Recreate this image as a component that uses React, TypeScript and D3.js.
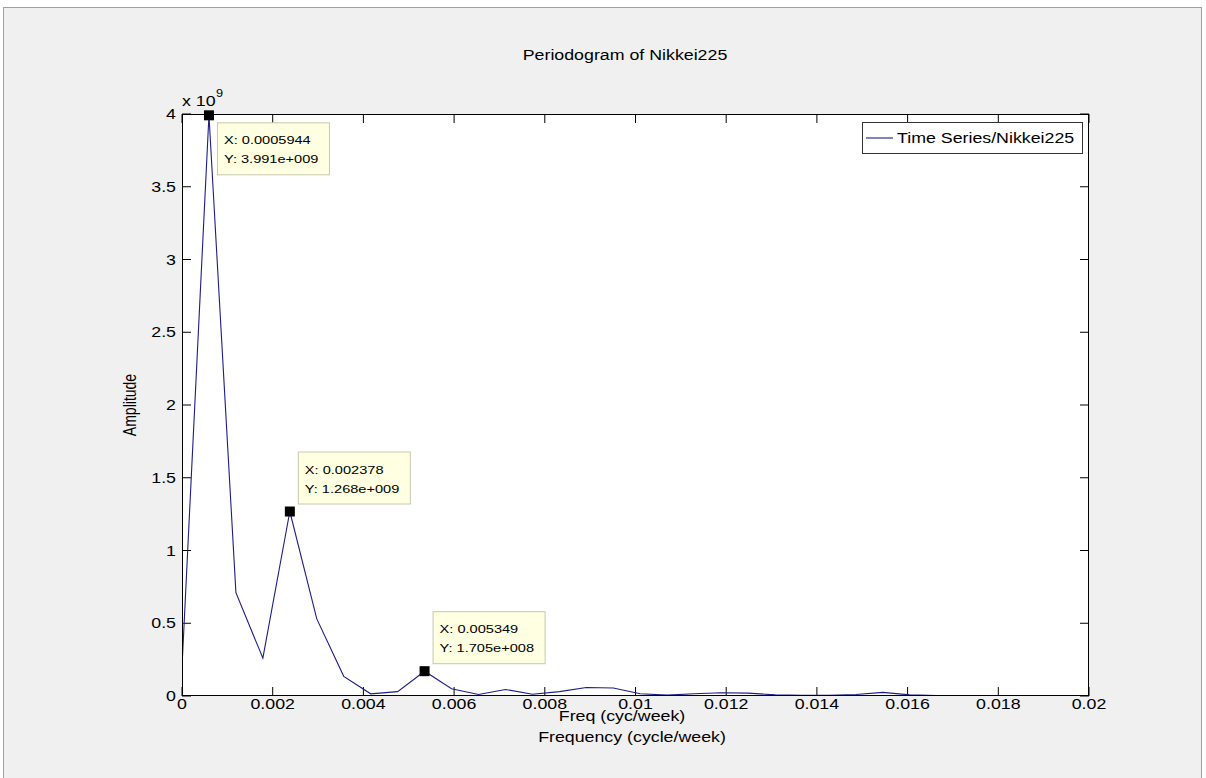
import React from "react";
import * as d3 from "d3";

const DF = 0.0005944;
const amplitudes = [
  0.2, 3.991, 0.71, 0.26, 1.268, 0.53, 0.135, 0.015, 0.03, 0.1705, 0.05, 0.01,
  0.045, 0.012, 0.03, 0.058, 0.055, 0.015, 0.006, 0.015, 0.022, 0.02, 0.008,
  0.004, 0.005, 0.01, 0.025, 0.008, 0.003, 0.003, 0.002, 0.003, 0.002, 0.002, 0.002,
]; // x 1e9
const frequencies = amplitudes.map((_, i) => i * DF);
const xTicks = [0, 0.002, 0.004, 0.006, 0.008, 0.01, 0.012, 0.014, 0.016, 0.018, 0.02];
const xTickLabels = ["0", "0.002", "0.004", "0.006", "0.008", "0.01", "0.012", "0.014", "0.016", "0.018", "0.02"];
const yTicks = [0, 0.5, 1, 1.5, 2, 2.5, 3, 3.5, 4];
const yTickLabels = ["0", "0.5", "1", "1.5", "2", "2.5", "3", "3.5", "4"];
const tipX = [0.0005944, 0.002378, 0.005349];
const tipY = [3.991, 1.268, 0.1705];
const tipXLabels = ["X: 0.0005944", "X: 0.002378", "X: 0.005349"];
const tipYLabels = ["Y: 3.991e+009", "Y: 1.268e+009", "Y: 1.705e+008"];
const tipBelow = [true, false, false];

const FONT = "'Liberation Sans', Arial, Helvetica, sans-serif";
const SX = 1.27;

function T({ x, y, anchor = "start", size = 14, children, rotate = 0, fill = "#000" }: any) {
  const tr = `translate(${x},${y}) scale(${SX},1)` + (rotate ? ` rotate(${rotate})` : "");
  return (
    <text transform={tr} textAnchor={anchor} fontFamily={FONT} fontSize={size} fill={fill}>
      {children}
    </text>
  );
}

export default function App() {
  const W = 1206, H = 778;
  const L = 182, R = 1089, TOP = 114, B = 696;
  const x = d3.scaleLinear().domain([0, 0.02]).range([L, R]);
  const y = d3.scaleLinear().domain([0, 4]).range([B, TOP]);
  const line = d3
    .line<number>()
    .x((_, i) => x(frequencies[i]))
    .y((d) => y(d));
  const tl = 9;
  return (
    <svg width={W} height={H} style={{ position: "absolute", left: 0, top: 0 }}>
      <rect x={0} y={0} width={W} height={H} fill="#fff" />
      <rect x={3.5} y={7.5} width={1198} height={H} fill="#f0f0f0" stroke="#a0a0a0" />
      <defs>
        <clipPath id="clip">
          <rect x={L} y={TOP - 10} width={R - L} height={B - TOP + 10} />
        </clipPath>
      </defs>
      <rect x={L} y={TOP} width={R - L} height={B - TOP} fill="#fff" />
      <T x={625} y={60} anchor="middle">Periodogram of Nikkei225</T>
      {/* ticks */}
      {xTicks.map((t, i) => (
        <g key={"xt" + i}>
          <line x1={x(t)} x2={x(t)} y1={B} y2={B - tl} stroke="#000" />
          <line x1={x(t)} x2={x(t)} y1={TOP} y2={TOP + tl} stroke="#000" />
          <T x={x(t)} y={709} anchor="middle">{xTickLabels[i]}</T>
        </g>
      ))}
      {yTicks.map((t, i) => (
        <g key={"yt" + i}>
          <line x1={L} x2={L + tl} y1={y(t)} y2={y(t)} stroke="#000" />
          <line x1={R} x2={R - tl} y1={y(t)} y2={y(t)} stroke="#000" />
          <T x={176} y={y(t) + 5} anchor="end">{yTickLabels[i]}</T>
        </g>
      ))}
      <T x={182} y={106}>x 10</T>
      <T x={216} y={97} size={10}>9</T>
      <path d={line(amplitudes) || ""} fill="none" stroke="#1c1c8c" strokeWidth={1.1} clipPath="url(#clip)" />
      <rect x={L + 0.5} y={TOP + 0.5} width={R - L - 1} height={B - TOP - 1} fill="none" stroke="#000" />
      <T x={136} y={405} anchor="middle" rotate={-90}>Amplitude</T>
      <T x={622} y={721} anchor="middle">Freq (cyc/week)</T>
      <T x={632} y={742} anchor="middle">Frequency (cycle/week)</T>
      {/* legend */}
      <rect x={862.5} y={122.5} width={220} height={31} fill="#fff" stroke="#333" />
      <line x1={866} x2={893} y1={138} y2={138} stroke="#1c1c8c" strokeWidth={1.1} />
      <T x={897} y={143}>Time Series/Nikkei225</T>
      {/* data tips */}
      {tipX.map((tx, i) => {
        const mx = x(tx), my = y(tipY[i]);
        const bx = mx + 8;
        const by = tipBelow[i] ? my + 7 : my - 60;
        return (
          <g key={"tip" + i}>
            <rect x={bx + 0.5} y={by + 0.5} width={112} height={52} fill="#ffffe1" stroke="#c8c8b0" />
            <T x={bx + 7} y={by + 22} size={11.5}>{tipXLabels[i]}</T>
            <T x={bx + 7} y={by + 41} size={11.5}>{tipYLabels[i]}</T>
            <rect x={mx - 5} y={my - 5} width={10} height={10} fill="#000" />
          </g>
        );
      })}
    </svg>
  );
}
